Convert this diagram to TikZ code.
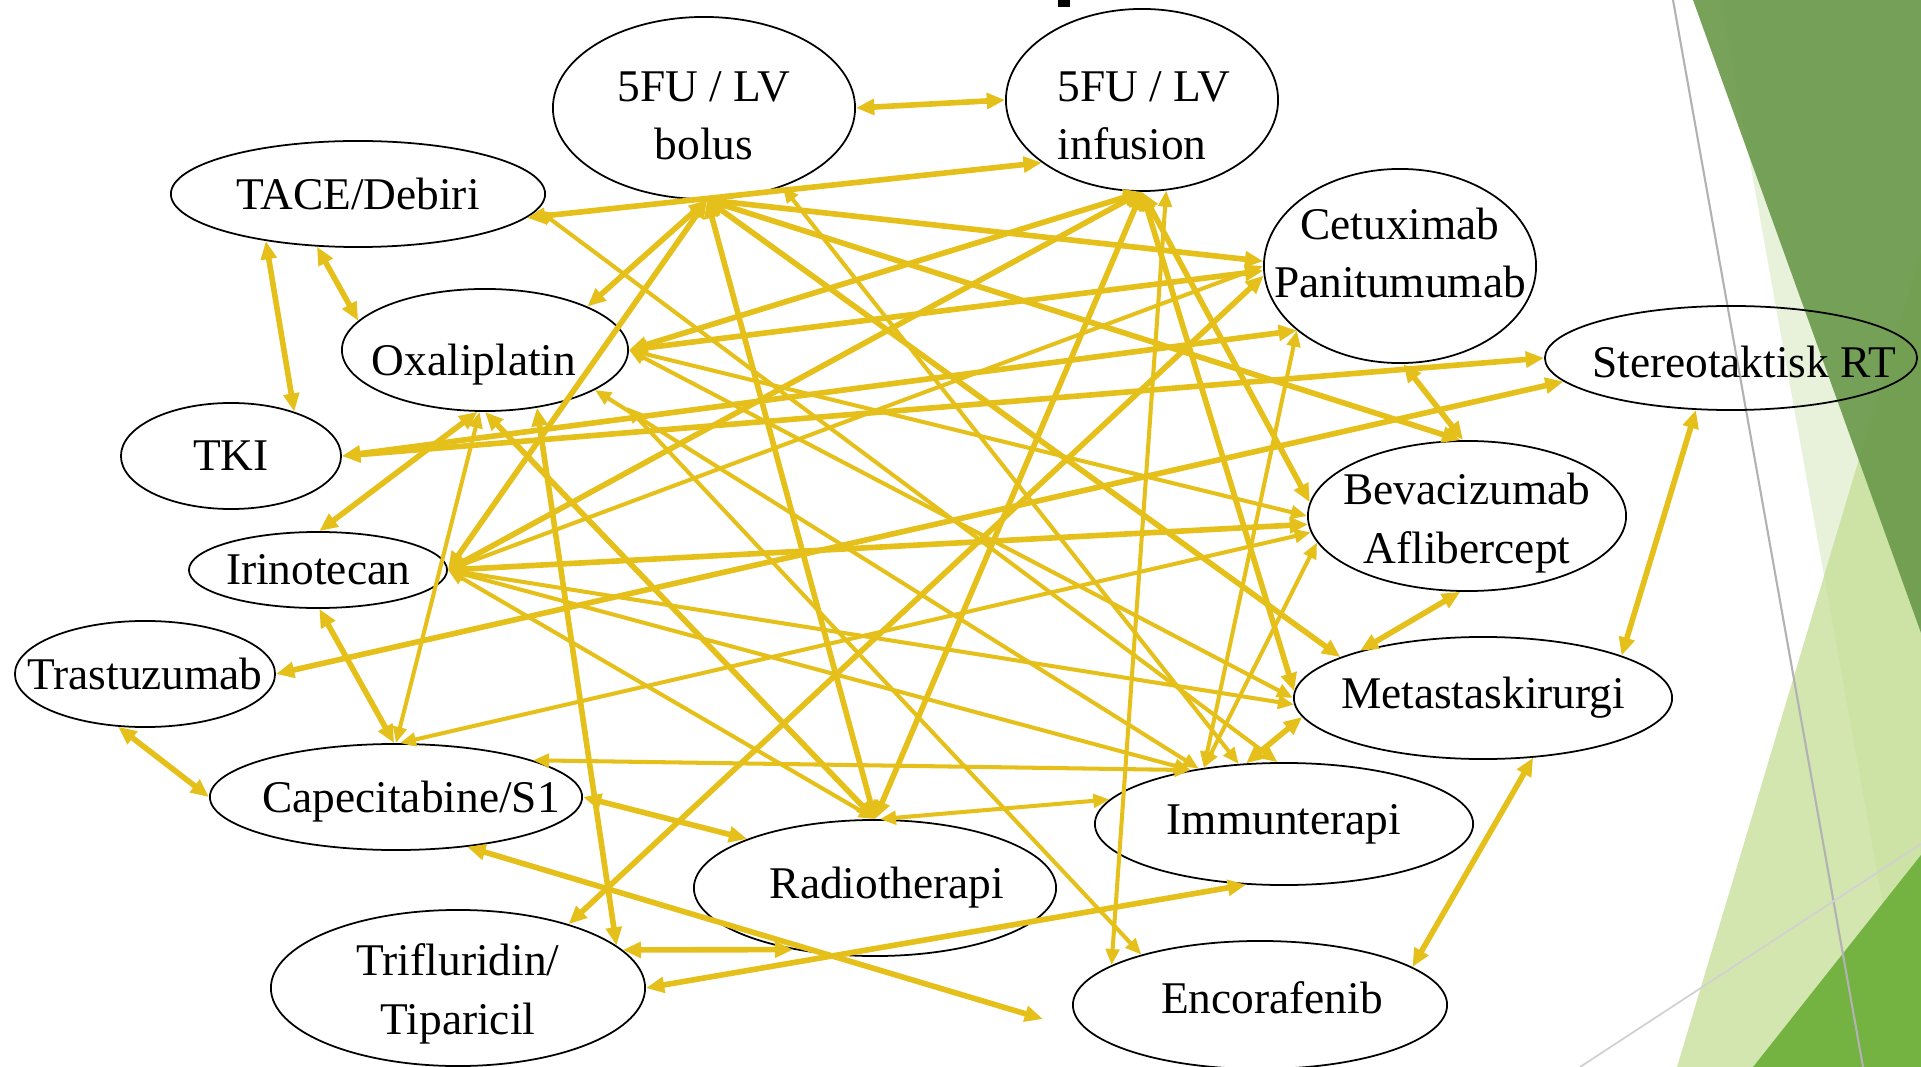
\documentclass[tikz,border=0pt]{standalone}
\usepackage{fontspec}
\setmainfont{Liberation Serif}
\usetikzlibrary{shapes.geometric,arrows.meta}
\definecolor{linkgold}{RGB}{229,192,26}
\definecolor{facetdark}{RGB}{108,154,76}
\definecolor{facetpale}{RGB}{232,241,218}
\definecolor{facetlight}{RGB}{196,222,148}
\definecolor{facetbright}{RGB}{116,178,66}
\tikzset{
  drug/.style={draw, ellipse, line width=0.5pt, inner sep=0pt},
  drugtext/.style={font=\fontsize{12.9}{16.6}\selectfont, align=center, inner sep=0pt},
  link/.style={linkgold, line width=1.6pt, {Triangle[length=5.2pt,width=4.4pt]}-{Triangle[length=5.2pt,width=4.4pt]}},
  thinlink/.style={linkgold, line width=1.15pt, {Triangle[length=4.6pt,width=3.8pt]}-{Triangle[length=4.6pt,width=3.8pt]}}
}
\begin{document}
\begin{tikzpicture}[x=0.01cm, y=-0.01cm]
  \useasboundingbox (0,0) rectangle (1921,1067);
  \fill[facetpale] (1721,0) -- (1921,0) -- (1921,1067) -- (1912,1067) -- cycle;
  \fill[facetlight, opacity=0.75] (1677,1067) -- (1921,252) -- (1921,1067) -- cycle;
  \fill[facetdark, opacity=0.92] (1693,0) -- (1921,0) -- (1921,633) -- cycle;
  \fill[facetbright] (1753,1067) -- (1921,855) -- (1921,1067) -- cycle;
  \draw[black!30, line width=0.6pt] (1673,0) -- (1863,1067);
  \draw[black!18, line width=0.5pt] (1580,1067) -- (1921,844);
  \fill (1058,0) rectangle (1070,7);

  \node (bolus) [drug, minimum width=3.02cm, minimum height=1.82cm, label={[drugtext, yshift=-0.08cm]center:5FU / LV\\bolus}] at (704,108) {};
  \node (infus) [drug, minimum width=2.72cm, minimum height=1.82cm, label={[drugtext, align=left, xshift=0.02cm, yshift=-0.16cm]center:5FU / LV\\infusion}] at (1142,100) {};
  \node (tace) [drug, minimum width=3.74cm, minimum height=1.06cm, label={[drugtext]center:TACE/Debiri}] at (358,194) {};
  \node (oxa) [drug, minimum width=2.86cm, minimum height=1.22cm, label={[drugtext, xshift=-0.11cm, yshift=-0.15cm]center:Oxaliplatin}] at (485,350) {};
  \node (tki) [drug, minimum width=2.20cm, minimum height=1.06cm, label={[drugtext]center:TKI}] at (231,456) {};
  \node (irino) [drug, minimum width=2.58cm, minimum height=0.76cm, label={[drugtext]center:Irinotecan}] at (318,570) {};
  \node (trast) [drug, minimum width=2.60cm, minimum height=1.06cm, label={[drugtext]center:Trastuzumab}] at (145,674) {};
  \node (capec) [drug, minimum width=3.72cm, minimum height=1.06cm, label={[drugtext, xshift=0.15cm, yshift=-0.05cm]center:Capecitabine/S1}] at (396,797) {};
  \node (triflu) [drug, minimum width=3.74cm, minimum height=1.56cm, label={[drugtext, yshift=-0.06cm]center:Trifluridin/\\Tiparicil}] at (458,988) {};
  \node (radio) [drug, minimum width=3.62cm, minimum height=1.36cm, label={[drugtext, xshift=0.12cm]center:Radiotherapi}] at (875,888) {};
  \node (immun) [drug, minimum width=3.78cm, minimum height=1.22cm, label={[drugtext]center:Immunterapi}] at (1284,824) {};
  \node (encor) [drug, minimum width=3.74cm, minimum height=1.28cm, label={[drugtext, xshift=0.12cm, yshift=0.07cm]center:Encorafenib}] at (1260,1005) {};
  \node (meta) [drug, minimum width=3.78cm, minimum height=1.22cm, label={[drugtext]center:Metastaskirurgi}] at (1483,698) {};
  \node (beva) [drug, minimum width=3.18cm, minimum height=1.50cm, label={[drugtext, yshift=-0.07cm]center:Bevacizumab\\Aflibercept}] at (1467,516) {};
  \node (cetux) [drug, minimum width=2.72cm, minimum height=1.94cm, label={[drugtext, yshift=0.13cm]center:Cetuximab\\Panitumumab}] at (1400,266) {};
  \node (stereo) [drug, minimum width=3.72cm, minimum height=1.04cm, label={[drugtext, xshift=0.13cm, yshift=-0.04cm]center:Stereotaktisk RT}] at (1731,358) {};
  \coordinate (oxatip) at (627,407);
  \coordinate (capectip) at (1043,1019);

  \draw[link] (bolus.east) -- (infus.west);
  \draw[link] (tace.-8) -- (infus.-148);
  \draw[thinlink] (tace.-5) -- (immun.96);
  \draw[link] (tace.-153) -- (tki.35);
  \draw[link] (tace.-128) -- (oxa.167);
  \draw[link] (bolus.-88) -- (oxa.23);
  \draw[link] (bolus.-88) -- (irino.east);
  \draw[link] (bolus.-88) -- (radio.north);
  \draw[link] (bolus.-88) -- (cetux.178);
  \draw[link] (bolus.-88) -- (beva.95);
  \draw[link] (bolus.-88) -- (meta.164);
  \draw[thinlink] (bolus.-45) -- (immun.127);
  \draw[link] (infus.south) -- (oxa.east);
  \draw[link] (infus.south) -- (irino.east);
  \draw[link] (infus.south) -- (radio.north);
  \draw[link] (infus.south) -- (beva.175);
  \draw[link] (infus.south) -- (meta.178);
  \draw[thinlink] (infus.-75) -- (encor.165);
  \draw[link] (oxa.east) -- (cetux.182);
  \draw[thinlink] (oxa.east) -- (beva.180);
  \draw[thinlink] (oxa.east) -- (meta.180);
  \draw[link] (oxa.-97) -- (irino.88);
  \draw[thinlink] (oxa.-95) -- (capec.90);
  \draw[link] (oxa.-90) -- (radio.north);
  \draw[link] (oxa.-48) -- (triflu.15);
  \draw[thinlink] (oxa.-20) -- (immun.147);
  \draw[thinlink] (oxatip) -- (encor.157);
  \draw[link] (tki.east) -- (cetux.-148);
  \draw[link] (tki.east) -- (stereo.180);
  \draw[link] (trast.east) -- (stereo.188);
  \draw[link] (trast.-117) -- (capec.180);
  \draw[thinlink] (irino.east) -- (cetux.180);
  \draw[link] (irino.east) -- (beva.183);
  \draw[thinlink] (irino.east) -- (meta.182);
  \draw[thinlink] (irino.east) -- (immun.150);
  \draw[thinlink] (irino.east) -- (radio.north);
  \draw[link] (irino.-88) -- (capec.92);
  \draw[thinlink] (capec.86) -- (beva.186);
  \draw[thinlink] (capec.15) -- (immun.150);
  \draw[link] (capec.east) -- (radio.159);
  \draw[link] (capec.-35) -- (capectip);
  \draw[link] (triflu.30) -- (cetux.184);
  \draw[link] (triflu.13) -- (radio.-143);
  \draw[link] (triflu.east) -- (immun.-122);
  \draw[thinlink] (radio.86) -- (immun.172);
  \draw[thinlink] (cetux.-148) -- (immun.145);
  \draw[link] (cetux.-88) -- (beva.93);
  \draw[thinlink] (beva.190) -- (immun.145);
  \draw[link] (beva.-95) -- (meta.159);
  \draw[link] (meta.186) -- (immun.122);
  \draw[link] (meta.17) -- (stereo.-124);
  \draw[link] (meta.-50) -- (encor.14);
\end{tikzpicture}
\end{document}
